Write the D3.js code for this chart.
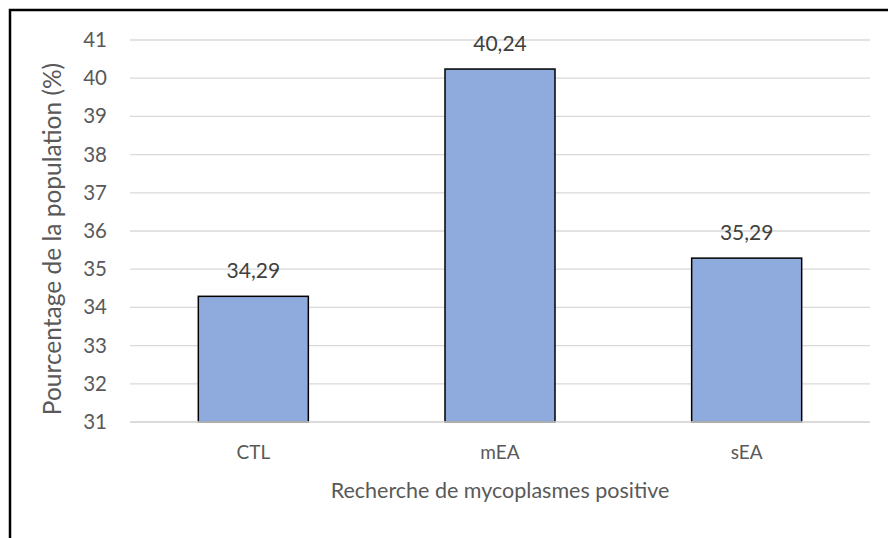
<!DOCTYPE html>
<html>
<head>
<meta charset="utf-8">
<script src="https://cdn.jsdelivr.net/npm/d3@7"></script>
<style>
  body { margin: 0; background: #fff; }
  text { font-family: Lato, "Open Sans", sans-serif; }
</style>
</head>
<body>
<div id="chart"></div>
<script>
// data
var categories = ["CTL", "mEA", "sEA"];
var values = [34.29, 40.24, 35.29];
var yTicks = [31, 32, 33, 34, 35, 36, 37, 38, 39, 40, 41];

var svgWidth = 888;
var svgHeight = 538;
var margin = { top: 40, right: 18, bottom: 116, left: 130 };
var width = svgWidth - margin.left - margin.right;
var height = svgHeight - margin.top - margin.bottom;

var svg = d3.select("#chart")
  .append("svg")
  .attr("width", svgWidth)
  .attr("height", svgHeight);

// outer frame (right/bottom edges fall outside the picture)
svg.append("rect")
  .attr("x", 10)
  .attr("y", 10)
  .attr("width", 900)
  .attr("height", 600)
  .attr("fill", "none")
  .attr("stroke", "#000")
  .attr("stroke-width", 2.5);

var chartGroup = svg.append("g")
  .attr("transform", `translate(${margin.left}, ${margin.top})`);

var xScale = d3.scaleBand()
  .domain(categories)
  .range([0, width])
  .paddingInner(0.554)
  .paddingOuter(0.277);

var yScale = d3.scaleLinear()
  .domain([31, 41])
  .range([height, 0]);

// gridlines
chartGroup.append("g")
  .selectAll("line")
  .data(yTicks)
  .enter()
  .append("line")
  .attr("x1", 0)
  .attr("x2", width)
  .attr("y1", d => yScale(d))
  .attr("y2", d => yScale(d))
  .attr("stroke", "#d9d9d9")
  .attr("stroke-width", 1.3);

// y axis labels
var leftAxis = d3.axisLeft(yScale).tickValues(yTicks).tickSize(0).tickPadding(23);
var yAxisG = chartGroup.append("g").call(leftAxis);
yAxisG.select(".domain").remove();
yAxisG.selectAll("text")
  .attr("fill", "#595959")
  .attr("font-size", "20.5px")
  .style("font-family", "Lato, 'Open Sans', sans-serif");

// bars
chartGroup.selectAll("rect.bar")
  .data(values)
  .enter()
  .append("rect")
  .attr("class", "bar")
  .attr("x", (d, i) => xScale(categories[i]))
  .attr("y", d => yScale(d))
  .attr("width", xScale.bandwidth())
  .attr("height", d => height - yScale(d))
  .attr("fill", "#8faadc")
  .attr("stroke", "#000")
  .attr("stroke-width", 1.5);

// x axis baseline
chartGroup.append("line")
  .attr("x1", 0)
  .attr("x2", width)
  .attr("y1", height)
  .attr("y2", height)
  .attr("stroke", "#d9d9d9")
  .attr("stroke-width", 1.3);

// value labels
chartGroup.selectAll("text.val")
  .data(values)
  .enter()
  .append("text")
  .attr("class", "val")
  .attr("x", (d, i) => xScale(categories[i]) + xScale.bandwidth() / 2)
  .attr("y", d => yScale(d) - 18)
  .attr("text-anchor", "middle")
  .attr("fill", "#404040")
  .attr("font-size", "21px")
  .text(d => d.toFixed(2).replace(".", ","));

// category labels
var bottomAxis = d3.axisBottom(xScale).tickSize(0).tickPadding(24);
var xAxisG = chartGroup.append("g")
  .attr("transform", `translate(0, ${height})`)
  .call(bottomAxis);
xAxisG.select(".domain").remove();
xAxisG.selectAll("text")
  .attr("fill", "#595959")
  .attr("font-size", "19px")
  .style("font-family", "Lato, 'Open Sans', sans-serif");

// axis titles
svg.append("text")
  .attr("transform", `translate(61, ${margin.top + height / 2 + 8}) rotate(-90)`)
  .attr("text-anchor", "middle")
  .attr("fill", "#595959")
  .attr("font-size", "24.5px")
  .text("Pourcentage de la population (%)");

svg.append("text")
  .attr("x", margin.left + width / 2)
  .attr("y", 498)
  .attr("text-anchor", "middle")
  .attr("fill", "#595959")
  .attr("font-size", "21.5px")
  .text("Recherche de mycoplasmes positive");
</script>
</body>
</html>
